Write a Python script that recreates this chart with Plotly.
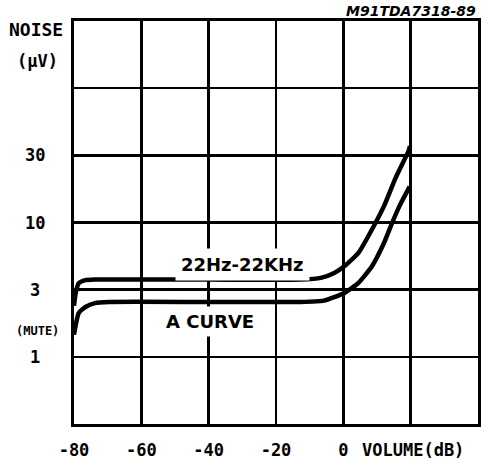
import numpy as np
import plotly.graph_objects as go

# ---- data ----
volume_db_wide = [-80, -79.5, -78.6, -76.6, -73.8, -70, -40, -12.7, -6.7, -2.7, 0.3, 4.5, 8.5, 12.1, 15.5, 19.4, 19.8]
noise_wide_uv = [2.4, 2.98, 3.53, 3.72, 3.76, 3.76, 3.76, 3.76, 3.87, 4.21, 4.72, 5.94, 8.87, 13.3, 21.4, 34.2, 37.0]

volume_db_a = [-80, -79.6, -78.6, -76.6, -73.8, -69.6, -40, -12.7, -5.8, 0.3, 4.5, 8.5, 12.1, 14.5, 16.7, 19.7]
noise_a_uv = [1.46, 1.67, 2.12, 2.35, 2.51, 2.56, 2.56, 2.56, 2.62, 2.99, 3.55, 4.72, 7.06, 9.95, 13.3, 18.5]

x_tick_vals = [-80, -60, -40, -20, 0, 20, 40]
x_tick_text = ["-80", "-60", "-40", "-20", "0", "", ""]
y_grid_vals = [10 ** -0.5, 1, 10 ** 0.5, 10, 10 ** 1.5, 100, 10 ** 2.5]
y_label_vals = [1, 10 ** 0.5, 10, 10 ** 1.5]
y_label_text = ["1", "3", "10", "30"]
mute_level = 1.56

MONO = "DejaVu Sans Mono"
SANS = "DejaVu Sans"

W, H = 499, 464
PL, PT, PW, PH = 74, 21, 404, 403


def px_x(px):
    return (px - PL) / PW


def px_y(py):
    return (PT + PH - py) / PH


fig = go.Figure()
for xs, ys in [(volume_db_wide, noise_wide_uv), (volume_db_a, noise_a_uv)]:
    fig.add_trace(go.Scatter(x=xs, y=ys, mode="lines",
                             line=dict(color="black", width=4.5, shape="spline", smoothing=0.5),
                             showlegend=False, hoverinfo="skip"))

annotations = []
for v, t in zip(y_label_vals, y_label_text):
    annotations.append(dict(x=px_x(35), xref="paper", y=np.log10(v), yref="y",
                            text=t, showarrow=False, xanchor="center", yanchor="middle",
                            font=dict(family=MONO, size=17, color="black", weight="bold")))
annotations += [
    dict(x=px_x(37), xref="paper", y=np.log10(mute_level), yref="y", text="(MUTE)",
         showarrow=False, xanchor="center", yanchor="middle",
         font=dict(family=MONO, size=12, color="black", weight="bold")),
    dict(x=px_x(36), xref="paper", y=px_y(30), yref="paper", text="NOISE",
         showarrow=False, xanchor="center", yanchor="middle",
         font=dict(family=MONO, size=18, color="black", weight="bold")),
    dict(x=px_x(37), xref="paper", y=px_y(61), yref="paper", text="(μV)",
         showarrow=False, xanchor="center", yanchor="middle",
         font=dict(family=MONO, size=17, color="black", weight="bold")),
    dict(x=px_x(478), xref="paper", y=px_y(11), yref="paper", text="M91TDA7318-89",
         showarrow=False, xanchor="right", yanchor="middle",
         font=dict(family=SANS, size=14, color="black", weight="bold", style="italic")),
    dict(x=px_x(360), xref="paper", y=px_y(450), yref="paper", text="VOLUME(dB)",
         showarrow=False, xanchor="left", yanchor="middle",
         font=dict(family=MONO, size=17, color="black", weight="bold")),
    dict(x=-30, xref="x", y=0.69, yref="y", text="22Hz-22KHz", showarrow=False,
         xanchor="center", yanchor="middle", bgcolor="white", borderpad=5,
         font=dict(family=SANS, size=18, color="black", weight="bold")),
    dict(x=-39.5, xref="x", y=0.263, yref="y", text="A CURVE", showarrow=False,
         xanchor="center", yanchor="middle", bgcolor="white", borderpad=4,
         font=dict(family=SANS, size=18, color="black", weight="bold")),
]

fig.update_layout(
    width=W, height=H,
    margin=dict(l=PL, r=W - PL - PW, t=PT, b=H - PT - PH, autoexpand=False),
    paper_bgcolor="white", plot_bgcolor="white",
    annotations=annotations,
)
fig.update_xaxes(range=[-80, 40], tickmode="array", tickvals=x_tick_vals, ticktext=x_tick_text,
                 showgrid=True, gridcolor="black", gridwidth=2.5, zeroline=False,
                 showline=True, linecolor="black", linewidth=3, mirror=True,
                 ticks="", ticklabelstandoff=9, automargin=False,
                 tickfont=dict(family=MONO, size=17, color="black", weight="bold"))
fig.update_yaxes(type="log", range=[-0.5, 2.5], tickmode="array", tickvals=y_grid_vals,
                 showticklabels=False, showgrid=True, gridcolor="black", gridwidth=2.5,
                 zeroline=False, showline=True, linecolor="black", linewidth=3, mirror=True,
                 ticks="", automargin=False)

fig.write_html("out.html", config={"displayModeBar": False, "staticPlot": True},
               post_script="document.body.style.margin='0';document.body.style.overflow='hidden';")
